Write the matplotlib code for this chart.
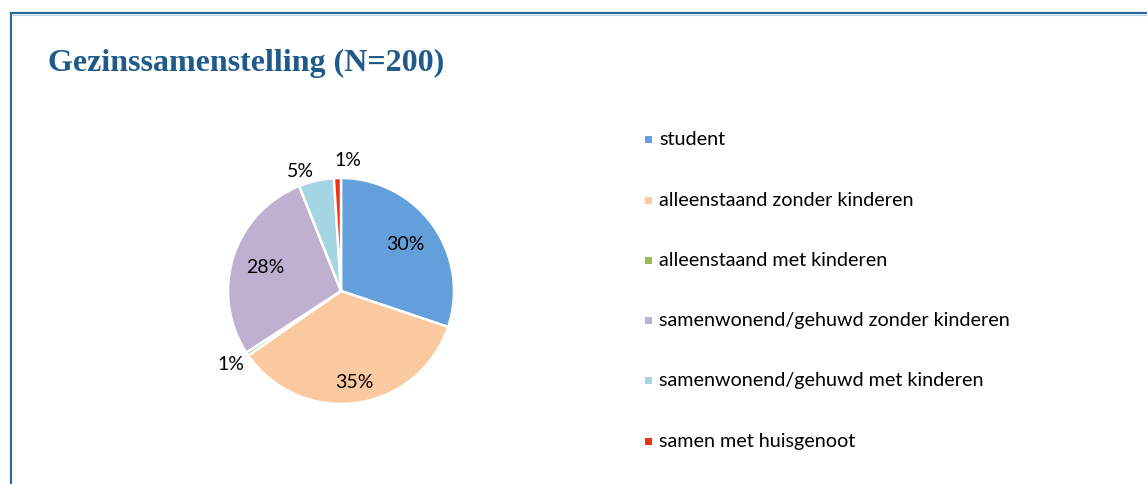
import matplotlib
matplotlib.use("Agg")
import matplotlib.pyplot as plt
from matplotlib.patches import Rectangle
import numpy as np

# ------------------------------------------------------------------
# data
# ------------------------------------------------------------------
N = 200
categories = [
    "student",
    "alleenstaand zonder kinderen",
    "alleenstaand met kinderen",
    "samenwonend/gehuwd zonder kinderen",
    "samenwonend/gehuwd met kinderen",
    "samen met huisgenoot",
]
counts = [60, 70, 1, 56, 10, 2]
colors = ["#63A0DB", "#FAC9A0", "#9BBB59", "#BFB0D2", "#A5D5E3", "#F03214"]

# label placement (radius in pie units, angular nudge in degrees)
label_r = [0.70, 0.82, 1.17, 0.70, 1.12, 1.16]
label_nudge = [0, 0, 0, 0, -6, 5]

W, H = 1147, 484
fig = plt.figure(figsize=(W / 100, H / 100), dpi=100)

# frame (top + left line, like the Word chart box)
frame = "#2E6A9A"
fig.add_artist(plt.Line2D([11 / W, 1], [1 - 13 / H, 1 - 13 / H], color=frame, lw=1.6))
fig.add_artist(plt.Line2D([11 / W, 11 / W], [0, 1 - 13 / H], color=frame, lw=1.6))
fig.add_artist(plt.Line2D([12.5 / W, 1], [1 - 14.5 / H, 1 - 14.5 / H], color="#BCD6EE", lw=0.8))

fig.text(48 / W, 1 - 71 / H, "Gezinssamenstelling (N=200)", family="Liberation Serif",
         weight="bold", fontsize=23, color="#1F5A8A", va="baseline", ha="left")

# pie
cx, cy, R = 341, 291, 113
box = 340
ax = fig.add_axes([(cx - box / 2) / W, (H - cy - box / 2) / H, box / W, box / H])
lim = (box / 2) / R

wedges, _ = ax.pie(counts, colors=colors, startangle=90, counterclock=False,
                   radius=1.0, wedgeprops=dict(edgecolor="white", linewidth=1.8))
ax.set_xlim(-lim, lim)
ax.set_ylim(-lim, lim)
ax.axis("off")

total = sum(counts)
start = 90.0
for i, c in enumerate(counts):
    sweep = 360.0 * c / total
    mid = np.deg2rad(start - sweep / 2 - label_nudge[i])
    start -= sweep
    pct = int(100.0 * c / N + 0.5)
    ax.text(label_r[i] * np.cos(mid), label_r[i] * np.sin(mid), f"{pct}%",
            ha="center", va="center", fontsize=14, family="Lato", color="#000000")

# legend
for i, (lab, col) in enumerate(zip(categories, colors)):
    y = 140 + 60.2 * i
    fig.add_artist(Rectangle(((645) / W, 1 - (y + 3.5) / H), 7 / W, 7 / H,
                             transform=fig.transFigure, color=col, lw=0))
    fig.text(659 / W, 1 - y / H, lab, ha="left", va="center", fontsize=14.2,
             family="Lato", color="#000000")

fig.savefig("out.png", dpi=100)
